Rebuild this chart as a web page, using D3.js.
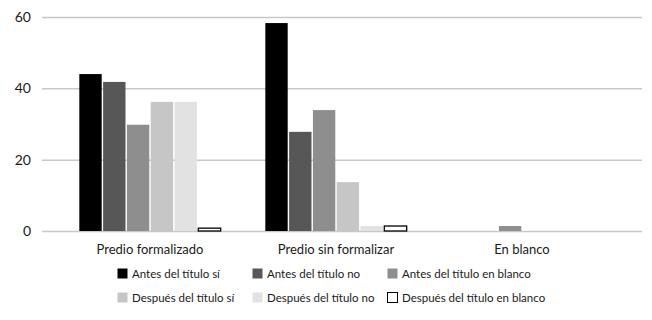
<!DOCTYPE html>
<html lang="es">
<head>
  <meta charset="UTF-8">
  <title>Predio y título</title>
  <script src="https://d3js.org/d3.v7.min.js"></script>
  <style>
    body { margin: 0; background: #fff; }
    text { font-family: Lato, "DejaVu Sans", sans-serif; fill: #1a1a1a; }
    .grid line { stroke: #c8c8c8; stroke-width: 1.5px; }
    .grid path { display: none; }
  </style>
</head>
<body>
<div id="chart"></div>
<script>

  var categories = ["Predio formalizado", "Predio sin formalizar", "En blanco"];
  var seriesNames = [
    "Antes del título sí",
    "Antes del título no",
    "Antes del título en blanco",
    "Después del título sí",
    "Después del título no",
    "Después del título en blanco"
  ];
  // one array per series, values for each category in order
  var antesSi        = [44.0, 58.3, 0];
  var antesNo        = [41.8, 27.8, 0];
  var antesBlanco    = [29.8, 33.9, 1.4];
  var despuesSi      = [36.2, 13.7, 0];
  var despuesNo      = [36.2, 1.4, 0];
  var despuesBlanco  = [0.8, 1.4, 0];
  var yTicks = [0, 20, 40, 60];

  var seriesValues = [antesSi, antesNo, antesBlanco, despuesSi, despuesNo, despuesBlanco];
  var fills = ["#000000", "#575757", "#8e8e8e", "#c6c6c6", "#e2e2e2", "#ffffff"];

  var w = 652, h = 320;
  var svg = d3.select("#chart").append("svg")
      .attr("width", w)
      .attr("height", h);

  var y = d3.scaleLinear()
      .domain([0, 60])
      .range([231, 17]);

  var x0 = d3.scaleBand()
      .domain(categories)
      .range([57, 615])
      .paddingInner(0.24)
      .paddingOuter(0.12);

  var x1 = d3.scaleBand()
      .domain(d3.range(seriesNames.length))
      .range([0, x0.bandwidth()])
      .paddingInner(0.06);

  // gridlines
  svg.append("g")
    .attr("class", "grid")
    .attr("transform", "translate(42,0)")
    .call(d3.axisLeft(y).tickValues(yTicks).tickSize(-600).tickFormat(""));

  // y labels
  svg.append("g")
    .selectAll("text")
    .data(yTicks)
    .join("text")
      .attr("x", 31)
      .attr("y", function(d) { return y(d); })
      .attr("dy", "0.35em")
      .attr("text-anchor", "end")
      .style("font-size", "14px")
      .text(function(d) { return d; });

  // bars
  var groups = svg.append("g")
    .selectAll("g")
    .data(categories)
    .join("g")
      .attr("transform", function(d) { return "translate(" + x0(d) + ",0)"; });

  groups.selectAll("rect")
    .data(function(d, i) {
      return seriesValues.map(function(s, k) { return { k: k, v: s[i] }; })
        .filter(function(e) { return e.v > 0; });
    })
    .join("rect")
      .attr("x", function(d) { return x1(d.k); })
      .attr("width", x1.bandwidth())
      .attr("y", function(d) { return y(d.v); })
      .attr("height", function(d) { return y(0) - y(d.v); })
      .attr("fill", function(d) { return fills[d.k]; })
      .attr("stroke", function(d) { return d.k == 5 ? "#000" : "none"; })
      .attr("stroke-width", 1.3);

  // category labels
  svg.append("g")
    .selectAll("text")
    .data(categories)
    .join("text")
      .attr("x", function(d) { return x0(d) + x0.bandwidth() / 2; })
      .attr("y", 254)
      .attr("text-anchor", "middle")
      .style("font-size", "13px")
      .text(function(d) { return d; });

  // legend
  var legend = svg.append("g")
    .selectAll("g")
    .data(seriesNames)
    .join("g")
      .attr("transform", function(d, i) {
        return "translate(" + (117 + (i % 3) * 135) + "," + (268 + Math.floor(i / 3) * 24) + ")";
      });

  legend.append("rect")
    .attr("x", 0.5)
    .attr("y", 0.5)
    .attr("width", 10)
    .attr("height", 10)
    .attr("fill", function(d, i) { return fills[i]; })
    .attr("stroke", function(d, i) { return i == 5 ? "#000" : "none"; });

  legend.append("text")
    .attr("x", 15)
    .attr("y", 5.5)
    .attr("dy", "0.35em")
    .style("font-size", "11.5px")
    .text(function(d) { return d; });

</script>
</body>
</html>
